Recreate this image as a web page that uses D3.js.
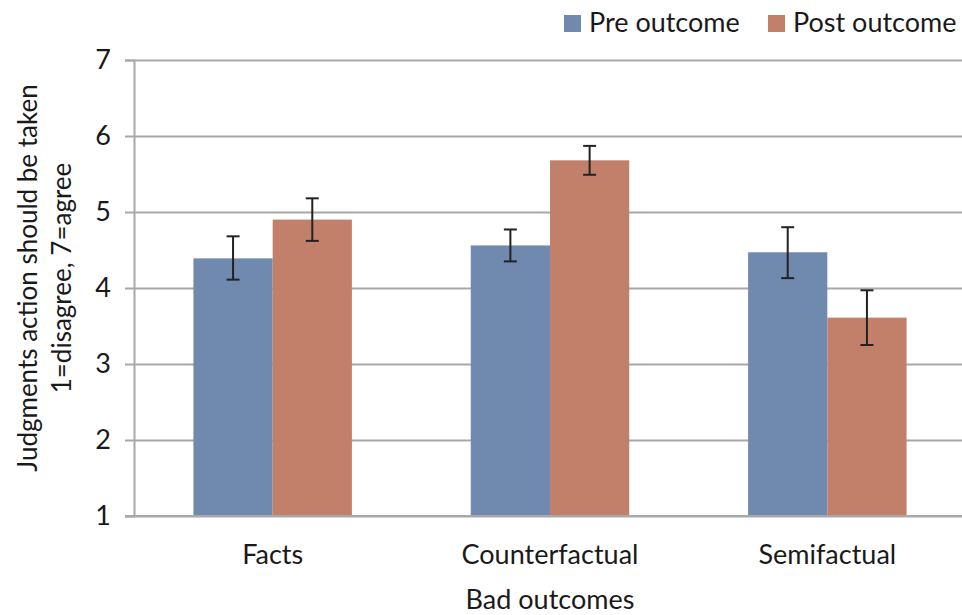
<!DOCTYPE html>
<html>
<head>
<meta charset="utf-8">
<script src="https://cdn.jsdelivr.net/npm/d3@7"></script>
<style>
  body { margin: 0; background: #fff; }
  text { font-family: Lato, "Open Sans", sans-serif; fill: #1a1a1a; }
</style>
</head>
<body>
<svg id="chart" width="962" height="615"></svg>
<script>
const categories = ["Facts", "Counterfactual", "Semifactual"];
const seriesNames = ["Pre outcome", "Post outcome"];
const preMeans = [4.39, 4.56, 4.47];
const postMeans = [4.90, 5.68, 3.61];
const preErr = [[4.11, 4.68], [4.35, 4.77], [4.13, 4.80]];
const postErr = [[4.62, 5.18], [5.49, 5.87], [3.25, 3.97]];
const yTicks = [1, 2, 3, 4, 5, 6, 7];

const colors = ["#7089AE", "#C2806A"];

const svg = d3.select("#chart");
const margin = { top: 60, right: -4, bottom: 99, left: 134 };
const width = 962, height = 615;
const innerW = width - margin.left - margin.right;
const innerH = height - margin.top - margin.bottom;

const g = svg.append("g").attr("transform", `translate(${margin.left},${margin.top})`);

const x0 = d3.scaleBand().domain(categories).range([0, innerW]).paddingInner(0).paddingOuter(0);
// bars take 2 units, gap 1.5 units (gap width 150%)
const x1 = d3.scaleBand().domain(seriesNames).range([x0.bandwidth() * 0.75 / 3.5, x0.bandwidth() * (1 - 0.75 / 3.5)]);
const y = d3.scaleLinear().domain([1, 7]).range([innerH, 0]);

// gridlines
g.append("g")
  .call(d3.axisLeft(y).tickValues(yTicks).tickSize(-innerW).tickFormat(""))
  .call(a => a.select(".domain").remove())
  .selectAll("line").attr("stroke", "#A8A8A8").attr("stroke-width", 2);

// y axis with tick marks
const yAxis = g.append("g")
  .call(d3.axisLeft(y).tickValues(yTicks).tickSize(9).tickPadding(14).tickFormat(d3.format("d")));
yAxis.select(".domain").attr("stroke", "#A8A8A8").attr("stroke-width", 2);
yAxis.selectAll("line").attr("stroke", "#A8A8A8").attr("stroke-width", 2);
yAxis.selectAll("text").attr("font-size", 27).attr("fill", "#1a1a1a")
  .style("font-family", "Lato, sans-serif");

const rows = categories.map((c, i) => ({
  cat: c,
  vals: [
    { s: seriesNames[0], v: preMeans[i], e: preErr[i], c: colors[0] },
    { s: seriesNames[1], v: postMeans[i], e: postErr[i], c: colors[1] }
  ]
}));

const grp = g.selectAll(".cat").data(rows).enter().append("g")
  .attr("transform", d => `translate(${x0(d.cat)},0)`);

grp.selectAll("rect").data(d => d.vals).enter().append("rect")
  .attr("x", d => x1(d.s))
  .attr("y", d => y(d.v))
  .attr("width", x1.bandwidth())
  .attr("height", d => y(1) - y(d.v))
  .attr("fill", d => d.c);

const eb = grp.selectAll(".eb").data(d => d.vals).enter().append("g")
  .attr("stroke", "#222").attr("stroke-width", 2);
eb.append("line")
  .attr("x1", d => x1(d.s) + x1.bandwidth() / 2)
  .attr("x2", d => x1(d.s) + x1.bandwidth() / 2)
  .attr("y1", d => y(d.e[0])).attr("y2", d => y(d.e[1]));
eb.append("line")
  .attr("x1", d => x1(d.s) + x1.bandwidth() / 2 - 6.5)
  .attr("x2", d => x1(d.s) + x1.bandwidth() / 2 + 6.5)
  .attr("y1", d => y(d.e[0])).attr("y2", d => y(d.e[0]));
eb.append("line")
  .attr("x1", d => x1(d.s) + x1.bandwidth() / 2 - 6.5)
  .attr("x2", d => x1(d.s) + x1.bandwidth() / 2 + 6.5)
  .attr("y1", d => y(d.e[1])).attr("y2", d => y(d.e[1]));

// x axis line
g.append("line")
  .attr("x1", -9).attr("x2", innerW)
  .attr("y1", innerH).attr("y2", innerH)
  .attr("stroke", "#A8A8A8").attr("stroke-width", 2);

g.selectAll(".xlab").data(categories).enter().append("text")
  .attr("x", d => x0(d) + x0.bandwidth() / 2)
  .attr("y", innerH + 48)
  .attr("text-anchor", "middle")
  .attr("font-size", 27)
  .text(d => d);

svg.append("text")
  .attr("x", margin.left + x0("Counterfactual") + x0.bandwidth() / 2)
  .attr("y", 609)
  .attr("text-anchor", "middle")
  .attr("font-size", 27)
  .text("Bad outcomes");

// y title
const yt = svg.append("text")
  .attr("transform", "translate(0,278) rotate(-90)")
  .attr("text-anchor", "middle")
  .attr("font-size", 26);
yt.append("tspan").attr("x", 0).attr("y", 37).text("Judgments action should be taken");
yt.append("tspan").attr("x", 0).attr("y", 71).text("1=disagree, 7=agree");

// legend
const legX = [564, 768];
const leg = svg.selectAll(".leg").data(seriesNames).enter().append("g")
  .attr("transform", (d, i) => `translate(${legX[i]},15)`);
leg.append("rect").attr("width", 17).attr("height", 17).attr("fill", (d, i) => colors[i]);
leg.append("text").attr("x", 25).attr("y", 17).attr("font-size", 27).text(d => d);
</script>
</body>
</html>
